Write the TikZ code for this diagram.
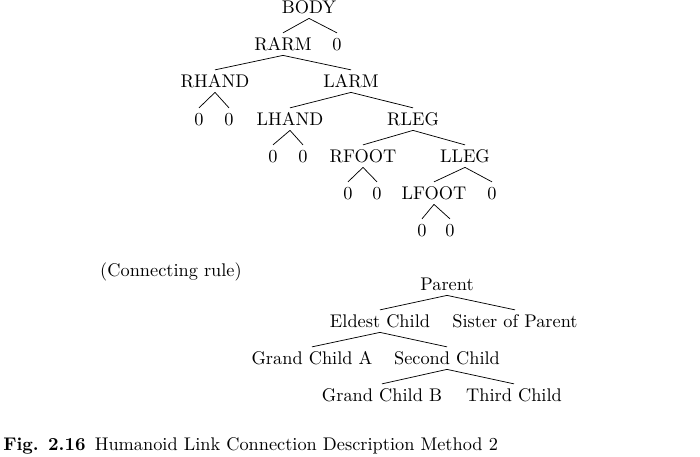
\documentclass[tikz,border=0pt]{standalone}
\usepackage{amsmath}
\usepackage{tikz}

\begin{document}
\begin{tikzpicture}[x=0.546pt,y=-0.546pt,
					lbl/.style={anchor=base,inner xsep=0pt,inner ysep=2.2pt,text height=7.5pt,text depth=0pt}]
					\useasboundingbox (0,0) rectangle (700,457);
					
					% link tree
					\node[lbl] (body) at (309,14) {BODY};
					\node[lbl] (rarm) at (283,51) {RARM};
					\node[lbl] (bodyz) at (337,51) {0};
					\node[lbl] (rhand) at (215,88) {RHAND};
					\node[lbl] (larm) at (351,88) {LARM};
					\node[lbl] (rhandl) at (199,126) {0};
					\node[lbl] (rhandr) at (229,126) {0};
					\node[lbl] (lhand) at (290,126) {LHAND};
					\node[lbl] (rleg) at (413,126) {RLEG};
					\node[lbl] (lhandl) at (273,163) {0};
					\node[lbl] (lhandr) at (303,163) {0};
					\node[lbl] (rfoot) at (363,163) {RFOOT};
					\node[lbl] (lleg) at (465,163) {LLEG};
					\node[lbl] (rfootl) at (348,200) {0};
					\node[lbl] (rfootr) at (377,200) {0};
					\node[lbl] (lfoot) at (434,200) {LFOOT};
					\node[lbl] (llegz) at (492,200) {0};
					\node[lbl] (lfootl) at (422,237) {0};
					\node[lbl] (lfootr) at (450,237) {0};
					
					\draw (body.south) -- (rarm.north);
					\draw (body.south) -- (bodyz.north);
					\draw (rarm.south) -- (rhand.north);
					\draw (rarm.south) -- (larm.north);
					\draw (rhand.south) -- (rhandl.north);
					\draw (rhand.south) -- (rhandr.north);
					\draw (larm.south) -- (lhand.north);
					\draw (larm.south) -- (rleg.north);
					\draw (lhand.south) -- (lhandl.north);
					\draw (lhand.south) -- (lhandr.north);
					\draw (rleg.south) -- (rfoot.north);
					\draw (rleg.south) -- (lleg.north);
					\draw (rfoot.south) -- (rfootl.north);
					\draw (rfoot.south) -- (rfootr.north);
					\draw (lleg.south) -- (lfoot.north);
					\draw (lleg.south) -- (llegz.north);
					\draw (lfoot.south) -- (lfootl.north);
					\draw (lfoot.south) -- (lfootr.north);
					
					% connecting rule
					\node[anchor=base] (rule) at (171,277) {(Connecting rule)};
					\node[lbl] (parent) at (447,291) {Parent};
					\node[lbl] (eldest) at (380,328) {Eldest Child};
					\node[lbl] (sister) at (515,328) {Sister of Parent};
					\node[lbl] (grandA) at (312,365) {Grand Child A};
					\node[lbl] (second) at (447,365) {Second Child};
					\node[lbl] (grandB) at (382,402) {Grand Child B};
					\node[lbl] (third) at (514,402) {Third Child};
					
					\draw (parent.south) -- (eldest.north);
					\draw (parent.south) -- (sister.north);
					\draw (eldest.south) -- (grandA.north);
					\draw (eldest.south) -- (second.north);
					\draw (second.south) -- (grandB.north);
					\draw (second.south) -- (third.north);
					
					\node[anchor=base west,inner sep=0pt] (caption) at (3,451) {\textbf{Fig. 2.16}\enspace Humanoid Link Connection Description Method 2};
					
				\end{tikzpicture}
\end{document}
